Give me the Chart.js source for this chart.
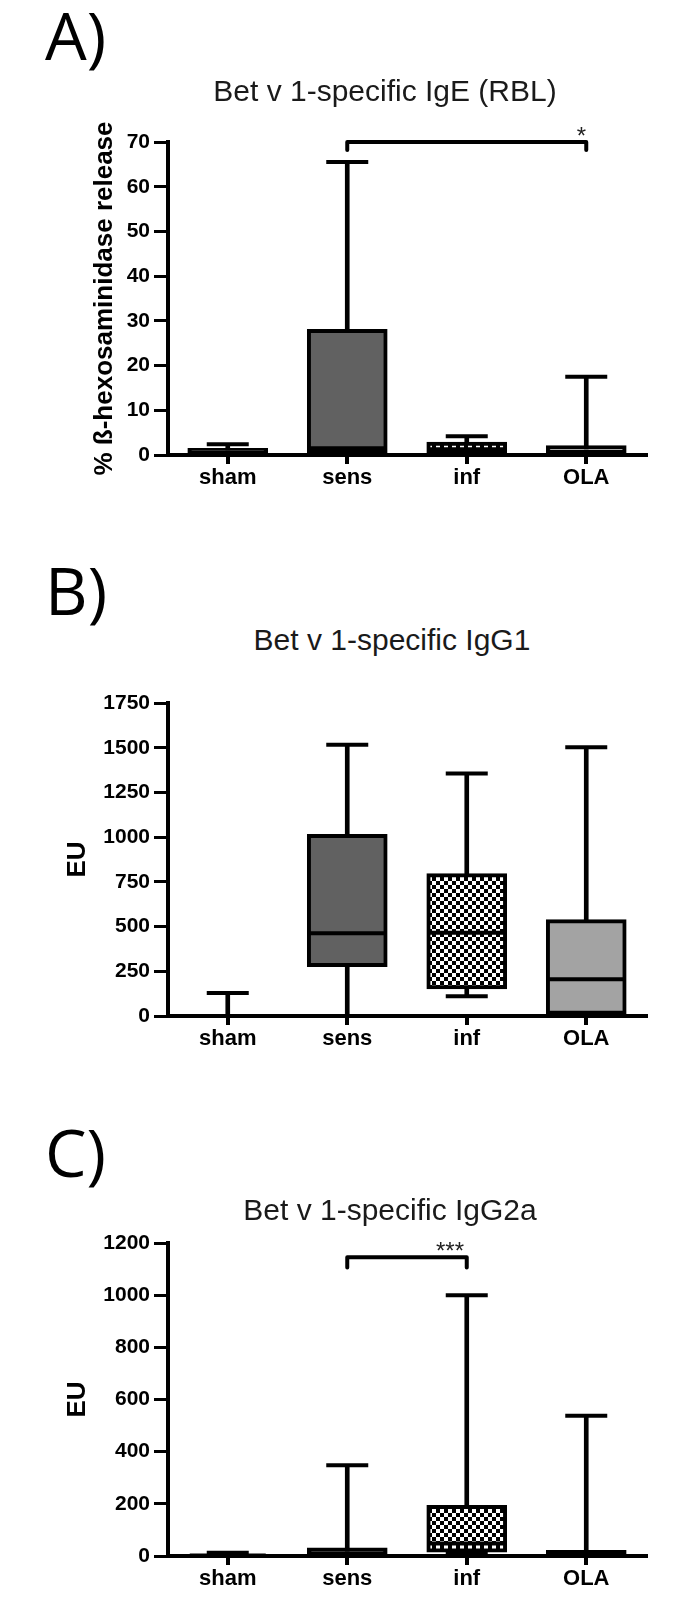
<!DOCTYPE html>
<html>
<head>
<meta charset="utf-8">
<script src="https://cdn.jsdelivr.net/npm/chart.js@4.4.0/dist/chart.umd.min.js"></script>
<style>
body { margin: 0; background: #fff; width: 694px; height: 1598px; overflow: hidden; position: relative; font-family: "Liberation Sans", Arial, sans-serif; }
.tag { position: absolute; left: 45px; font-family: "Open Sans", sans-serif; font-size: 66px; line-height: 66px; color: #000; }
.ttl { position: absolute; width: 460px; text-align: center; font-size: 30px; line-height: 30px; color: #1a1a1a; }
canvas { position: absolute; left: 0; }
</style>
</head>
<body>
<canvas id="chartA" width="694" height="397" style="top:100px"></canvas>
<canvas id="chartB" width="694" height="397" style="top:661px"></canvas>
<canvas id="chartC" width="694" height="397" style="top:1201px"></canvas>
<div class="tag" style="top:1px">A)</div>
<div class="ttl" style="left:155px;top:76px">Bet v 1-specific IgE (RBL)</div>
<div class="tag" style="top:556px">B)</div>
<div class="ttl" style="left:162px;top:625px">Bet v 1-specific IgG1</div>
<div class="tag" style="top:1118px">C)</div>
<div class="ttl" style="left:160px;top:1195px">Bet v 1-specific IgG2a</div>

<script>
var categories = ['sham', 'sens', 'inf', 'OLA'];

// A) IgE (RBL), % release
var igeMin = [0, 0, 0, 0];
var igeQ1 = [0, 0.3, 0, 0];
var igeMedian = [0.6, 1.5, 1.3, 0.3];
var igeQ3 = [1.5, 28.1, 2.9, 2.1];
var igeMax = [2.4, 65.5, 4.2, 17.5];
var igeTicks = [0, 10, 20, 30, 40, 50, 60, 70];
var igeBracket = [1, 3, 70, 68.2];   // from, to, level, tip
var igeStar = ['*', 2.96];

// B) IgG1, EU
var igg1Min = [0, 0, 110, 0];
var igg1Q1 = [0, 276, 152, 9];
var igg1Median = [0, 462, 466, 206];
var igg1Q3 = [0, 1016, 796, 539];
var igg1Max = [128, 1516, 1356, 1503];
var igg1Ticks = [0, 250, 500, 750, 1000, 1250, 1500, 1750];

// C) IgG2a, EU
var igg2aMin = [0, 0, 12, 0];
var igg2aQ1 = [0, 0, 15, 0];
var igg2aMedian = [2, 10, 48, 8];
var igg2aQ3 = [5, 31, 194, 22];
var igg2aMax = [12, 348, 1000, 538];
var igg2aTicks = [0, 200, 400, 600, 800, 1000, 1200];
var igg2aBracket = [1, 2, 1145, 1106];
var igg2aStar = ['***', 1.86];

var font = '"Liberation Sans", Arial, sans-serif';

// checkerboard fill for the "inf" boxes
var pat = document.createElement('canvas');
pat.width = 8; pat.height = 8;
var pc = pat.getContext('2d');
pc.fillStyle = '#fff'; pc.fillRect(0, 0, 8, 8);
pc.fillStyle = '#000'; pc.fillRect(0, 0, 4, 4); pc.fillRect(4, 4, 4, 4);
var checker = pc.createPattern(pat, 'repeat');

var boxFills = ['#ffffff', '#616161', checker, '#a3a3a3'];

var sigBracket = {
    id: 'sigBracket',
    afterDatasetsDraw: function(chart, args, opts) {
        if (!opts.bracket) return;
        var ctx = chart.ctx;
        var x = chart.scales.x, y = chart.scales.y;
        var b = opts.bracket;
        var x1 = x.getPixelForValue(b[0]), x2 = x.getPixelForValue(b[1]);
        var yl = y.getPixelForValue(b[2]), yt = y.getPixelForValue(b[3]);
        ctx.save();
        ctx.strokeStyle = '#000';
        ctx.lineWidth = 4;
        ctx.lineCap = 'round';
        ctx.lineJoin = 'round';
        ctx.beginPath();
        ctx.moveTo(x1, yt);
        ctx.lineTo(x1, yl);
        ctx.lineTo(x2, yl);
        ctx.lineTo(x2, yt);
        ctx.stroke();
        ctx.fillStyle = '#222';
        ctx.font = '24px ' + font;
        ctx.textAlign = 'center';
        ctx.textBaseline = 'alphabetic';
        ctx.fillText(opts.star[0], x.getPixelForValue(opts.star[1]), yl + 2);
        ctx.restore();
    }
};

function makePanel(id, mins, q1s, meds, q3s, maxs, ticks, yTitle, titlePad, bracket, star) {
    var whiskers = [], boxes = [];
    for (var i = 0; i < categories.length; i++) {
        whiskers.push([mins[i], maxs[i]]);
        boxes.push([q1s[i], q3s[i]]);
    }
    new Chart(document.getElementById(id), {
        type: 'bar',
        data: {
            labels: categories,
            datasets: [
                { label: 'range', data: whiskers, backgroundColor: '#000', borderWidth: 0,
                  barThickness: 4, grouped: false, order: 4 },
                { label: 'IQR', data: boxes, backgroundColor: boxFills, borderColor: '#000',
                  borderWidth: 4, borderSkipped: false, barThickness: 80, grouped: false, order: 3 },
                { type: 'line', label: 'median', data: meds, showLine: false, pointStyle: 'line',
                  pointRadius: 38, pointBorderWidth: 4, pointBorderColor: '#000', order: 2 },
                { type: 'line', label: 'max', data: maxs, showLine: false, pointStyle: 'line',
                  pointRadius: 21, pointBorderWidth: 4, pointBorderColor: '#000', order: 1 },
                { type: 'line', label: 'min', data: mins, showLine: false, pointStyle: 'line',
                  pointRadius: 21, pointBorderWidth: 4, pointBorderColor: '#000', order: 1 }
            ]
        },
        options: {
            responsive: false,
            animation: false,
            events: [],
            layout: { padding: { left: 60, right: 48, top: 40, bottom: 0 } },
            plugins: {
                legend: { display: false },
                tooltip: { enabled: false },
                sigBracket: { bracket: bracket, star: star }
            },
            scales: {
                x: {
                    grid: { offset: false, drawOnChartArea: false, drawTicks: true, tickLength: 9,
                            tickWidth: 4, lineWidth: 4, color: '#000' },
                    border: { display: true, color: '#000', width: 4 },
                    ticks: { color: '#000', padding: 1, font: { family: font, size: 22, weight: 'bold' } },
                    afterFit: function(s) { s.height = 37; }
                },
                y: {
                    min: ticks[0],
                    max: ticks[ticks.length - 1],
                    afterBuildTicks: function(s) {
                        s.ticks = ticks.map(function(v) { return { value: v }; });
                    },
                    grid: { drawOnChartArea: false, drawTicks: true, tickLength: 14,
                            tickWidth: 3, lineWidth: 3, color: '#000' },
                    border: { display: true, color: '#000', width: 4 },
                    ticks: { color: '#000', padding: 4, font: { family: font, size: 21, weight: 'bold' },
                             callback: function(v) { return String(v); } },
                    title: { display: true, text: yTitle, color: '#000',
                             font: { family: font, size: 26, weight: 'bold' },
                             padding: { top: titlePad, bottom: 0 } },
                    afterFit: function(s) { s.width = 108; }
                }
            }
        },
        plugins: [sigBracket]
    });
}

makePanel('chartA', igeMin, igeQ1, igeMedian, igeQ3, igeMax, igeTicks,
          '% ß-hexosaminidase release', 29, igeBracket, igeStar);
makePanel('chartB', igg1Min, igg1Q1, igg1Median, igg1Q3, igg1Max, igg1Ticks,
          'EU', 2, null, null);
makePanel('chartC', igg2aMin, igg2aQ1, igg2aMedian, igg2aQ3, igg2aMax, igg2aTicks,
          'EU', 2, igg2aBracket, igg2aStar);
</script>
</body>
</html>
